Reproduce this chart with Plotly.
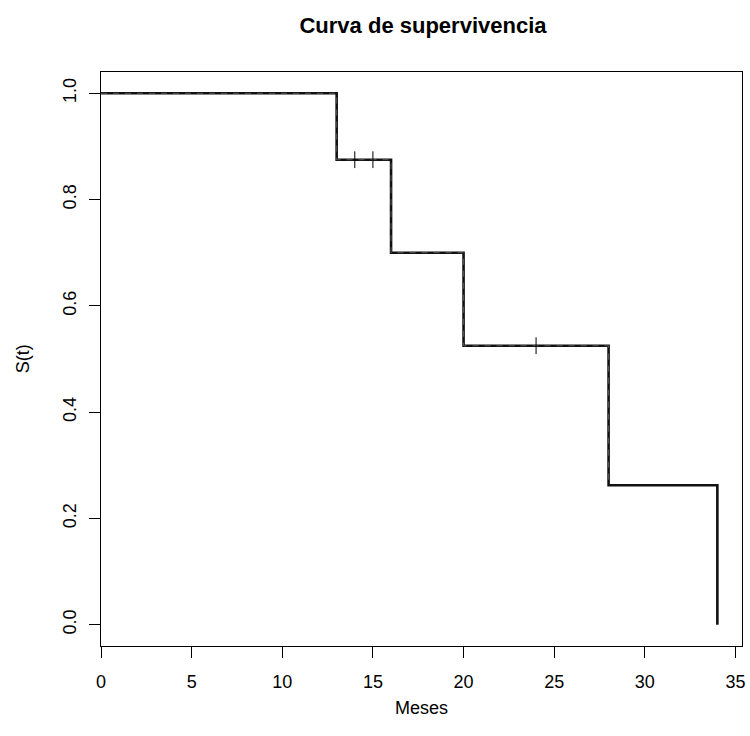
import plotly.graph_objects as go

# Kaplan-Meier step data
times = [0, 13, 16, 20, 28, 34]
surv = [1.0, 0.875, 0.7, 0.525, 0.2625, 0.0]
cens_t = [14, 15, 24]
cens_s = [0.875, 0.875, 0.525]
x_ticks = [0, 5, 10, 15, 20, 25, 30, 35]
y_ticks = [0.0, 0.2, 0.4, 0.6, 0.8, 1.0]

# build step path (post-style), ending with vertical drop at last time
sx, sy = [], []
for i in range(len(times)):
    if i > 0:
        sx.append(times[i]); sy.append(surv[i - 1])
    sx.append(times[i]); sy.append(surv[i])

# dashed overlay over steps up to the 28-month drop
n_dash = 2 * 4 + 1  # points through (28, 0.525)
FONT = "Liberation Sans, Arial, Helvetica, sans-serif"

fig = go.Figure()
fig.add_trace(go.Scatter(x=sx, y=sy, mode="lines",
                         line=dict(color="#111111", width=2.6, shape="linear"),
                         hoverinfo="skip", showlegend=False))
fig.add_trace(go.Scatter(x=sx[:n_dash], y=sy[:n_dash], mode="lines",
                         line=dict(color="#555555", width=1.0, dash="6px,6px"),
                         hoverinfo="skip", showlegend=False))
fig.add_trace(go.Scatter(x=cens_t, y=cens_s, mode="markers",
                         marker=dict(symbol="line-ns", size=12,
                                     line=dict(color="black", width=1)),
                         hoverinfo="skip", showlegend=False))

axis_common = dict(showline=True, linecolor="black", linewidth=1, mirror=True,
                   ticks="outside", ticklen=11, tickwidth=1, tickcolor="black",
                   showgrid=False, zeroline=False,
                   tickfont=dict(family=FONT, size=18, color="black"))

fig.update_layout(
    width=750, height=736,
    margin=dict(l=101, r=5, t=72, b=90),
    paper_bgcolor="white", plot_bgcolor="white",
    xaxis=dict(range=[0, 35.36], tickvals=x_ticks,
               ticktext=[str(v) for v in x_ticks],
               ticklabelstandoff=8, **axis_common),
    yaxis=dict(range=[-0.04, 1.04], tickvals=y_ticks,
               ticktext=[f"{v:.1f}" for v in y_ticks], tickangle=-90,
               ticklabelstandoff=6, **axis_common),
    title=dict(text="<b>Curva de supervivencia</b>", x=(101 + 745) / 2 / 750,
               xanchor="center", y=1 - 25 / 736, yanchor="middle",
               font=dict(family=FONT, size=22, color="black")),
    annotations=[
        dict(text="Meses", xref="paper", yref="paper", x=0.5, y=(646 - 708) / 574,
             xanchor="center", yanchor="middle", showarrow=False,
             font=dict(family=FONT, size=18, color="black")),
        dict(text="S(t)", xref="paper", yref="paper", x=(23 - 101) / 644, y=0.5,
             xanchor="center", yanchor="middle", textangle=-90, showarrow=False,
             font=dict(family=FONT, size=18, color="black")),
    ],
)

fig.write_html("out.html")
